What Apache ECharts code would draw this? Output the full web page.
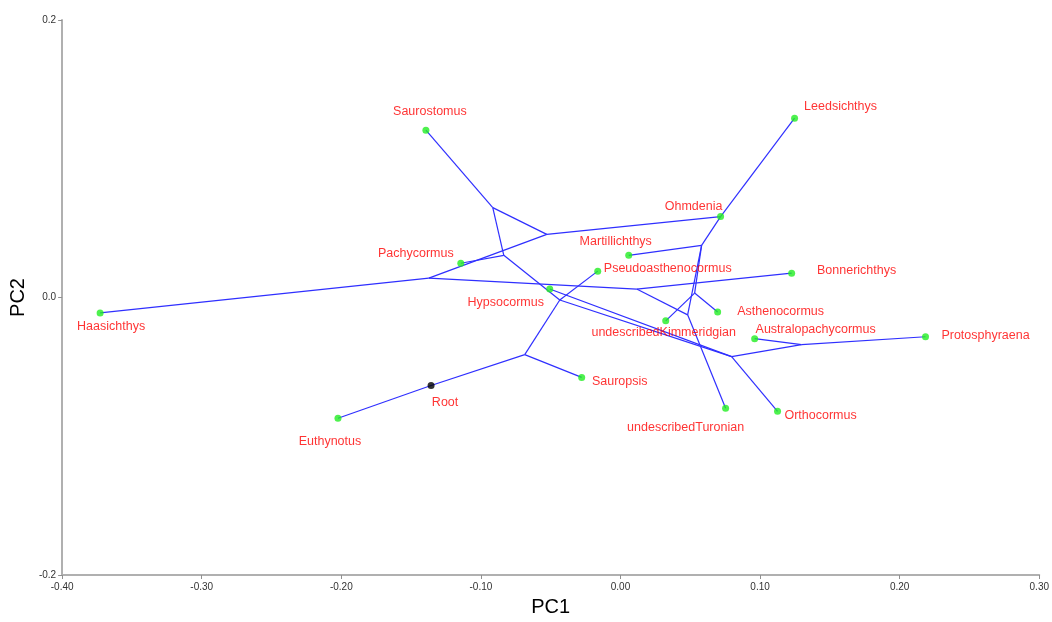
<!DOCTYPE html>
<html>
<head>
<meta charset="utf-8">
<script src="https://cdn.jsdelivr.net/npm/echarts@6/dist/echarts.min.js"></script>
<style>
html,body{margin:0;padding:0;background:#fff;}
#chart{width:1052px;height:622px;}
</style>
</head>
<body>
<div id="chart"></div>
<script>
// Tips (taxa)
var tipNames = ['Haasichthys','Euthynotus','Saurostomus','Pachycormus','Hypsocormus','Pseudoasthenocormus','Martillichthys','Ohmdenia','Leedsichthys','Bonnerichthys','Asthenocormus','undescribedKimmeridgian','Australopachycormus','Protosphyraena','Orthocormus','undescribedTuronian','Sauropsis'];
var tipPC1 = [-0.3728,-0.2024,-0.1394,-0.1144,-0.0507,-0.0163,0.0059,0.0717,0.1247,0.1226,0.0696,0.0324,0.0961,0.2185,0.1125,0.0753,-0.0278];
var tipPC2 = [-0.0111,-0.0870,0.1206,0.0247,0.0061,0.0190,0.0304,0.0583,0.1292,0.0175,-0.0104,-0.0168,-0.0297,-0.0283,-0.0820,-0.0798,-0.0576];

// Root
var rootName = 'Root';
var rootPC1 = -0.1357;
var rootPC2 = -0.0634;

// Internal (ancestral) nodes
var nodeNames = ['L','M','C','A','B','D','E','G','F','H','I','J','K'];
var nodePC1 = [-0.0686,-0.0435,-0.0836,-0.0915,-0.0528,-0.1373,0.0116,0.0717,0.0581,0.0531,0.0481,0.0796,0.1297];
var nodePC2 = [-0.0412,-0.0018,0.0304,0.0648,0.0455,0.0140,0.0061,0.0583,0.0376,0.0032,-0.0125,-0.0426,-0.0340];

// Branches
var edgeFrom = ['Root','Root','L','L','M','M','M','C','C','A','A','B','B','D','D','E','E','I','I','F','F','F','G','H','H','Hypsocormus','J','J','K','K'];
var edgeTo   = ['Euthynotus','L','Sauropsis','M','Pseudoasthenocormus','C','J','Pachycormus','A','Saurostomus','B','D','G','Haasichthys','E','Bonnerichthys','I','undescribedTuronian','F','Martillichthys','H','G','Leedsichthys','Asthenocormus','undescribedKimmeridgian','J','Orthocormus','K','Australopachycormus','Protosphyraena'];

// Axis tick values
var xTicks = [-0.40,-0.30,-0.20,-0.10,0.00,0.10,0.20,0.30];
var yTicks = [-0.2,0.0,0.2];

// label placement (pixel offsets of label centre from point)
var labelOffset = {
  'Haasichthys':[11,14],'Euthynotus':[-8,23],'Saurostomus':[4,-19],'Pachycormus':[-45,-10],
  'Hypsocormus':[-44,14],'Pseudoasthenocormus':[70,-3],'Martillichthys':[-13,-14],'Ohmdenia':[-27,-10],
  'Leedsichthys':[46,-12],'Bonnerichthys':[65,-3],'Asthenocormus':[63,0],'undescribedKimmeridgian':[-2,12],
  'Australopachycormus':[61,-9],'Protosphyraena':[60,-1],'Orthocormus':[43,4],'undescribedTuronian':[-40,19],
  'Sauropsis':[38,4],'Root':[14,17]
};

var pos = {};
tipNames.forEach(function(n,i){pos[n]=[tipPC1[i],tipPC2[i]];});
nodeNames.forEach(function(n,i){pos[n]=[nodePC1[i],nodePC2[i]];});
pos[rootName]=[rootPC1,rootPC2];

var edgeData = edgeFrom.map(function(f,i){return {coords:[pos[f],pos[edgeTo[i]]]};});

var labelStyle = function(n){
  return {show:true, position:'inside', align:'center', verticalAlign:'middle', offset:labelOffset[n],
    formatter:n, color:'#ff0000', fontSize:12.5, fontFamily:'Liberation Sans, Arial, sans-serif'};
};

var tipData = tipNames.map(function(n,i){return {name:n, value:[tipPC1[i],tipPC2[i]], label:labelStyle(n)};});
var rootData = [{name:rootName, value:[rootPC1,rootPC2], label:labelStyle(rootName)}];

var chart = echarts.init(document.getElementById('chart'));
chart.setOption({
  animation:false,
  backgroundColor:'#fff',
  grid:{left:62,right:12,top:20,bottom:43,containLabel:false},
  xAxis:{
    type:'value', min:xTicks[0], max:xTicks[xTicks.length-1], interval:0.1,
    name:'PC1', nameLocation:'middle', nameGap:22,
    nameTextStyle:{fontSize:20,color:'#000',fontFamily:'Liberation Sans, Arial, sans-serif'},
    axisLine:{show:true,onZero:false,lineStyle:{color:'#b0b0b0',width:2}},
    axisTick:{show:true,length:4,lineStyle:{color:'#909090',width:1}},
    axisLabel:{fontSize:10,color:'#333',margin:7,fontFamily:'Liberation Sans, Arial, sans-serif',
      formatter:function(v){return v.toFixed(2);}},
    splitLine:{show:false}
  },
  yAxis:{
    type:'value', min:yTicks[0], max:yTicks[yTicks.length-1], interval:0.2,
    name:'PC2', nameLocation:'middle', nameGap:27, nameRotate:90,
    nameTextStyle:{fontSize:20,color:'#000',fontFamily:'Liberation Sans, Arial, sans-serif'},
    axisLine:{show:true,onZero:false,lineStyle:{color:'#b0b0b0',width:2}},
    axisTick:{show:true,length:4,lineStyle:{color:'#909090',width:1}},
    axisLabel:{fontSize:10,color:'#333',margin:6,fontFamily:'Liberation Sans, Arial, sans-serif',
      formatter:function(v){return v.toFixed(1);}},
    splitLine:{show:false}
  },
  series:[
    {type:'lines', coordinateSystem:'cartesian2d', data:edgeData, silent:true,
      lineStyle:{color:'#2f2fff',width:1.2,opacity:1}, z:1},
    {type:'scatter', data:tipData, symbol:'circle', symbolSize:7,
      itemStyle:{color:'#22ee22'}, z:3},
    {type:'scatter', data:rootData, symbol:'circle', symbolSize:7,
      itemStyle:{color:'#000000'}, z:3}
  ]
});
</script>
</body>
</html>
